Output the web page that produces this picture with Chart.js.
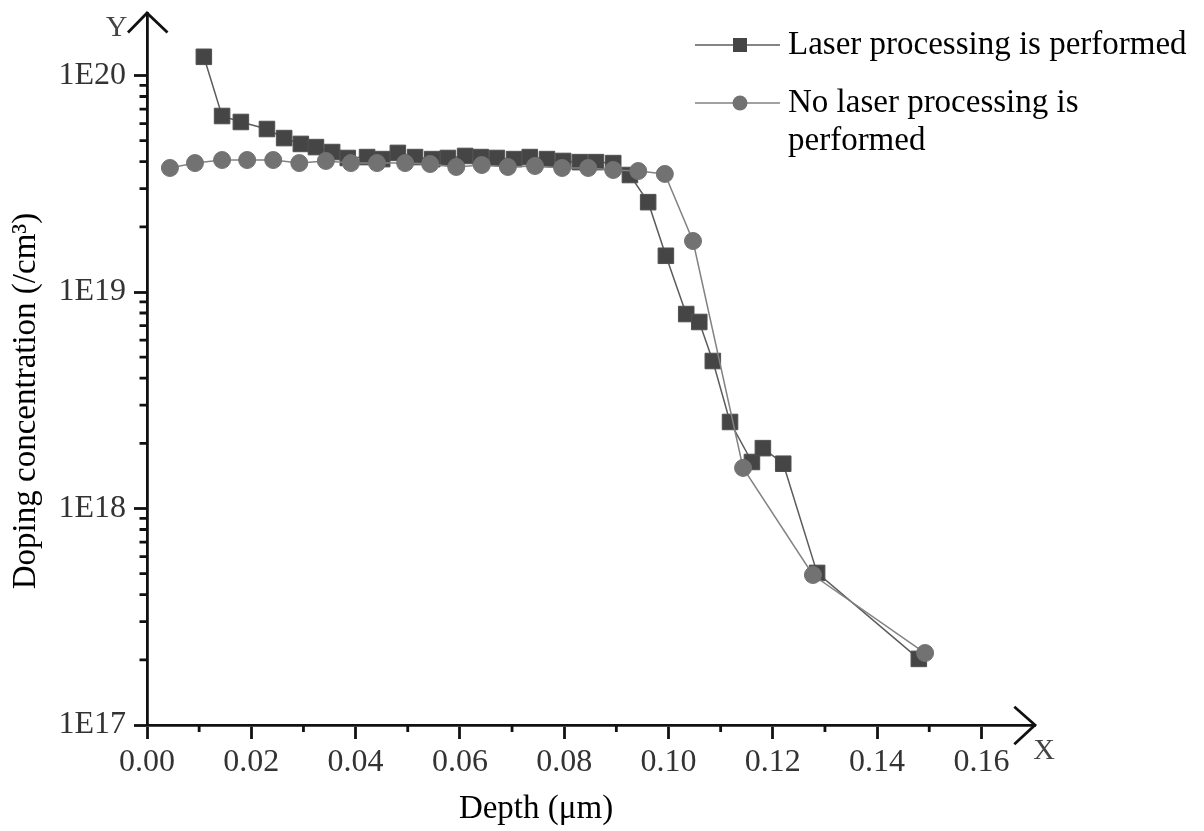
<!DOCTYPE html>
<html><head><meta charset="utf-8">
<script src="https://cdn.jsdelivr.net/npm/chart.js@4.4.1/dist/chart.umd.min.js"></script>
<style>html,body{margin:0;padding:0;background:#fff}#wrap{width:1204px;height:831px;position:relative}</style>
</head><body><div id="wrap"><canvas id="c"></canvas></div>
<script>
// ---- data ----
const seriesLabels = ["Laser processing is performed", ["No laser processing is", "performed"]];
const laserX = [0.0109,0.0144,0.0180,0.0230,0.0263,0.0295,0.0324,0.0355,0.0385,0.0422,0.0451,0.0481,0.0514,0.0547,0.0577,0.0610,0.0640,0.0671,0.0704,0.0734,0.0767,0.0798,0.0830,0.0861,0.0894,0.0926,0.0961,0.0995,0.1034,0.1059,0.1085,0.1118,0.1160,0.1181,0.1220,0.1285,0.1480];
const laserY = [1.22e20,6.50e19,6.10e19,5.66e19,5.14e19,4.83e19,4.67e19,4.43e19,4.16e19,4.20e19,4.11e19,4.39e19,4.20e19,4.11e19,4.16e19,4.25e19,4.20e19,4.16e19,4.11e19,4.20e19,4.11e19,4.03e19,3.98e19,3.98e19,3.94e19,3.47e19,2.60e19,1.47e19,7.91e18,7.27e18,4.80e18,2.51e18,1.64e18,1.90e18,1.61e18,5.04e17,2.02e17];
const noLaserX = [0.0044,0.0092,0.0144,0.0192,0.0242,0.0292,0.0343,0.0391,0.0441,0.0495,0.0543,0.0593,0.0642,0.0692,0.0744,0.0796,0.0846,0.0894,0.0942,0.0993,0.1047,0.1143,0.1277,0.1492];
const noLaserY = [3.74e19,3.94e19,4.07e19,4.07e19,4.07e19,3.94e19,4.03e19,3.94e19,3.94e19,3.94e19,3.90e19,3.78e19,3.86e19,3.78e19,3.82e19,3.74e19,3.74e19,3.66e19,3.62e19,3.51e19,1.72e19,1.54e18,4.93e17,2.15e17];
const xTicks = [0.00,0.02,0.04,0.06,0.08,0.10,0.12,0.14,0.16];
const xMinorTicks = [0.01,0.03,0.05,0.07,0.09,0.11,0.13,0.15];
const yTicks = [1e17,1e18,1e19,1e20];
const yTickLabels = ["1E17","1E18","1E19","1E20"];
const xTitle = "Depth (\u03BCm)";
const yTitle = "Doping concentration (/cm\u00B3)";

const yMinorTicks = [];
[1e17,1e18,1e19].forEach(d => { [2,3,4,5,6,7,8,9].forEach(m => yMinorTicks.push(m*d)); });

const FONT = "'Liberation Serif', 'Times New Roman', serif";
const sqColor = '#454545', sqLine = '#5c5c5c';
const ciColor = '#727272', ciLine = '#828282';
const AXW = 2.8;

const toPts = (xs, ys) => xs.map((x, i) => ({x: x, y: ys[i]}));

const deco = {
  id: 'deco',
  beforeDraw(chart) {
    const c = chart.ctx; c.save(); c.fillStyle = '#fff'; c.fillRect(0, 0, chart.width, chart.height); c.restore();
  },
  afterDraw(chart) {
    const ctx = chart.ctx, xs = chart.scales.x, ys = chart.scales.y, a = chart.chartArea;
    ctx.save();
    ctx.strokeStyle = '#111'; ctx.lineWidth = AXW; ctx.lineCap = 'butt'; ctx.lineJoin = 'miter';
    ctx.beginPath();
    yMinorTicks.forEach(v => { const p = ys.getPixelForValue(v); ctx.moveTo(a.left - 7.5, p); ctx.lineTo(a.left, p); });
    xMinorTicks.forEach(v => { const p = xs.getPixelForValue(v); ctx.moveTo(p, a.bottom); ctx.lineTo(p, a.bottom + 7); });
    ctx.stroke();
    // arrows
    ctx.beginPath();
    ctx.moveTo(a.left - 19, a.top + 19.5); ctx.lineTo(a.left, a.top); ctx.lineTo(a.left + 20.5, a.top + 19.5);
    ctx.stroke();
    ctx.beginPath();
    ctx.moveTo(a.right - 20.7, a.bottom - 18.3); ctx.lineTo(a.right, a.bottom); ctx.lineTo(a.right - 20.7, a.bottom + 19.3);
    ctx.stroke();
    // axis letters
    ctx.fillStyle = '#444'; ctx.font = '30px ' + FONT; ctx.textAlign = 'center'; ctx.textBaseline = 'middle';
    ctx.fillText('Y', 116.5, 28);
    ctx.fillText('X', 1044, 751);
    // axis titles
    ctx.fillStyle = '#000'; ctx.font = '33px ' + FONT;
    ctx.textBaseline = 'alphabetic'; ctx.textAlign = 'center';
    ctx.fillText(xTitle, 536, 818);
    ctx.save(); ctx.translate(35, 401); ctx.rotate(-Math.PI / 2); ctx.fillText(yTitle, 0, 0); ctx.restore();
    // legend
    const rows = [
      {y: 45, text: seriesLabels[0], style: 'rect'},
      {y: 103, text: seriesLabels[1], style: 'circle'}
    ];
    rows.forEach(r => {
      ctx.lineWidth = 1.5;
      ctx.strokeStyle = r.style === 'rect' ? sqLine : ciLine;
      ctx.beginPath(); ctx.moveTo(695, r.y); ctx.lineTo(780, r.y); ctx.stroke();
      ctx.fillStyle = r.style === 'rect' ? sqColor : ciColor;
      if (r.style === 'rect') { ctx.fillRect(733, r.y - 7, 14, 14); }
      else { ctx.beginPath(); ctx.arc(740, r.y, 7.5, 0, Math.PI * 2); ctx.fill(); }
      ctx.fillStyle = '#000'; ctx.font = '33px ' + FONT; ctx.textAlign = 'left'; ctx.textBaseline = 'alphabetic';
      const lines = Array.isArray(r.text) ? r.text : [r.text];
      lines.forEach((t, i) => ctx.fillText(t, 788, r.y + 9 + i * 38));
    });
    ctx.restore();
  }
};

new Chart(document.getElementById('c'), {
  type: 'scatter',
  data: {
    datasets: [
      {
        label: seriesLabels[1].join(' '),
        data: toPts(noLaserX, noLaserY),
        showLine: true, borderColor: ciLine, borderWidth: 1.5,
        pointStyle: 'circle', pointRadius: 8.5, pointBackgroundColor: ciColor, pointBorderColor: ciColor, pointBorderWidth: 1
      },
      {
        label: seriesLabels[0],
        data: toPts(laserX, laserY),
        showLine: true, borderColor: sqLine, borderWidth: 1.5,
        pointStyle: 'rect', pointRadius: 11, pointBackgroundColor: sqColor, pointBorderColor: '#505050', pointBorderWidth: 1
      }
    ]
  },
  options: {
    responsive: true, maintainAspectRatio: false, animation: false, devicePixelRatio: 1,
    layout: {padding: {top: 13, right: 169, left: 0, bottom: 0}},
    plugins: {legend: {display: false}, tooltip: {enabled: false}},
    scales: {
      x: {
        type: 'linear', min: 0, max: 0.17028,
        afterBuildTicks: s => { s.ticks = xTicks.map(v => ({value: v})); },
        afterFit: s => { s.height = 106; s.paddingLeft = 0; s.paddingRight = 0; },
        ticks: {callback: v => Number(v).toFixed(2), font: {family: FONT, size: 32}, color: '#333', padding: 4, maxRotation: 0, autoSkip: false},
        grid: {drawOnChartArea: false, drawTicks: true, tickLength: 14, tickWidth: AXW, tickColor: '#111'},
        border: {display: true, color: '#111', width: AXW},
        title: {display: false}
      },
      y: {
        type: 'logarithmic', min: 1e17, max: 1.944e20,
        afterBuildTicks: s => { s.ticks = yTicks.map(v => ({value: v})); },
        afterFit: s => { s.width = 147; s.paddingTop = 0; s.paddingBottom = 0; },
        ticks: {callback: v => yTickLabels[yTicks.findIndex(t => Math.abs(Math.log10(t) - Math.log10(v)) < 1e-6)] || '', font: {family: FONT, size: 32}, color: '#333', padding: 8, autoSkip: false},
        grid: {drawOnChartArea: false, drawTicks: true, tickLength: 13, tickWidth: AXW, tickColor: '#111'},
        border: {display: true, color: '#111', width: AXW},
        title: {display: false}
      }
    }
  },
  plugins: [deco]
});
</script>
</body></html>
